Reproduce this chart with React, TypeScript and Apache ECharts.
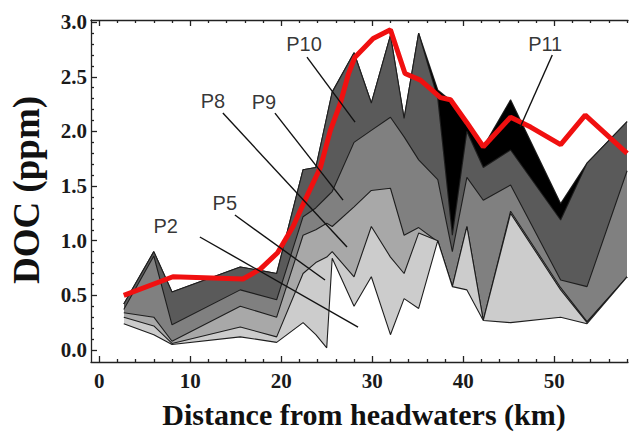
import React, { useEffect, useRef } from "react";
import * as echarts from "echarts";

// sampling sites along the river (km from headwaters)
const sites = [2.7, 6.0, 8.0, 15.5, 19.5, 22.4, 23.8, 25.0, 25.6, 28.0, 29.9, 32.0, 33.5, 35.1, 37.2, 38.8, 40.4, 42.2, 45.2, 50.7, 53.6, 58.0];

// upper boundary of each contribution band (ppm)
const p11Top = [0.42, 0.90, 0.53, 0.76, 0.70, 1.65, 1.67, 2.13, 2.36, 2.72, 2.26, 2.88, 2.12, 2.90, 2.38, 2.27, 2.05, 1.86, 2.29, 1.34, 1.71, 2.09];
const p10Top = [0.42, 0.90, 0.53, 0.76, 0.70, 1.65, 1.67, 2.13, 2.36, 2.72, 2.26, 2.88, 2.12, 2.90, 2.30, 1.05, 2.00, 1.67, 1.83, 1.19, 1.71, 2.09];
const p9Top = [0.37, 0.86, 0.23, 0.55, 0.46, 1.22, 1.30, 1.40, 1.45, 1.90, 2.01, 2.13, 1.95, 1.74, 1.56, 0.90, 1.58, 1.37, 1.51, 0.64, 0.58, 1.64];
const p8Top = [0.34, 0.30, 0.08, 0.40, 0.30, 1.05, 1.10, 1.16, 1.13, 1.31, 1.46, 1.48, 1.05, 1.12, 0.99, 0.58, 1.13, 0.27, 1.27, 0.57, 0.26, 0.67];
const p5Top = [0.30, 0.22, 0.06, 0.21, 0.12, 0.70, 0.80, 0.85, 0.90, 0.67, 1.13, 0.85, 0.70, 1.07, 1.00, 0.58, 1.13, 0.27, 1.25, 0.55, 0.25, 0.67];
const p2Top = [0.24, 0.14, 0.05, 0.12, 0.07, 0.25, 0.14, 0.02, 0.84, 0.40, 0.67, 0.14, 0.47, 0.38, 1.00, 0.58, 0.55, 0.27, 0.25, 0.30, 0.24, 0.67];

// observed DOC (red line)
const obsX = [2.7, 8.1, 15.8, 17.7, 19.6, 21.3, 23.0, 24.3, 25.4, 26.5, 27.4, 28.1, 30.1, 32.0, 33.6, 35.3, 37.5, 38.6, 40.4, 42.2, 45.2, 47.4, 50.7, 53.4, 58.0];
const obsY = [0.50, 0.67, 0.65, 0.74, 0.89, 1.13, 1.44, 1.67, 2.01, 2.26, 2.53, 2.68, 2.85, 2.93, 2.53, 2.47, 2.31, 2.29, 2.08, 1.86, 2.13, 2.04, 1.88, 2.15, 1.80];

// tick values
const xMajor = [0, 10, 20, 30, 40, 50];
const xMinor = [2, 4, 6, 8, 12, 14, 16, 18, 22, 24, 26, 28, 32, 34, 36, 38, 42, 44, 46, 48, 52, 54, 56, 58];
const yMajor = [0, 0.5, 1.0, 1.5, 2.0, 2.5, 3.0];
const yMinor = [0.1, 0.2, 0.3, 0.4, 0.6, 0.7, 0.8, 0.9, 1.1, 1.2, 1.3, 1.4, 1.6, 1.7, 1.8, 1.9, 2.1, 2.2, 2.3, 2.4, 2.6, 2.7, 2.8, 2.9];

// annotation labels (data coords) and pointer lines
const labelNames = ["P10", "P9", "P8", "P5", "P2", "P11"];
const labelX = [22.5, 18.1, 12.5, 13.8, 7.3, 49.0];
const labelY = [2.8, 2.27, 2.28, 1.345, 1.134, 2.8];
const pointerFromX = [22.83, 19.31, 13.59, 14.91, 11.06, 49.78];
const pointerFromY = [2.68, 2.168, 2.168, 1.235, 1.034, 2.70];
const pointerToX = [28.11, 26.79, 27.23, 24.81, 28.44, 46.26];
const pointerToY = [2.085, 1.372, 0.942, 0.64, 0.21, 2.04];

const layers = [
  { name: "P11", top: p11Top, color: "#000000" },
  { name: "P10", top: p10Top, color: "#5a5a5a" },
  { name: "P9", top: p9Top, color: "#808080" },
  { name: "P8", top: p8Top, color: "#a8a8a8" },
  { name: "P5", top: p5Top, color: "#cccccc" },
  { name: "P2", top: p2Top, color: "#ffffff" },
];

const X_MIN = -0.9;
const X_MAX = 58.1;
const Y_MIN = -0.11;
const Y_MAX = 3.02;

const tickFont = {
  fontFamily: "Liberation Serif",
  fontWeight: "bold" as const,
  fontSize: 21,
  color: "#1a1a1a",
};

export default function App() {
  const ref = useRef<HTMLDivElement>(null);
  useEffect(() => {
    if (!ref.current) return;
    const chart = echarts.init(ref.current, undefined, { renderer: "svg" });
    const grid = { left: 91, right: 2, top: 20, bottom: 73 };
    const baseX = { type: "value" as const, min: X_MIN, max: X_MAX, splitLine: { show: false } };
    const baseY = { type: "value" as const, min: Y_MIN, max: Y_MAX, splitLine: { show: false } };
    const lineStyle = { color: "#222", width: 1.3 };

    const option: any = {
      animation: false,
      backgroundColor: "#ffffff",
      grid,
      xAxis: [
        {
          ...baseX,
          position: "bottom",
          axisLine: { show: true, onZero: false, lineStyle },
          axisTick: { show: true, inside: true, length: 6, customValues: xMajor, lineStyle },
          axisLabel: { show: true, customValues: xMajor, margin: 8, lineHeight: 21, ...tickFont },
        },
        {
          ...baseX,
          position: "bottom",
          axisLine: { show: false, onZero: false },
          axisTick: { show: true, inside: true, length: 3, customValues: xMinor, lineStyle },
          axisLabel: { show: false },
        },
        {
          ...baseX,
          position: "top",
          axisLine: { show: true, onZero: false, lineStyle },
          axisTick: { show: true, inside: true, length: 6, customValues: xMajor, lineStyle },
          axisLabel: { show: false },
        },
        {
          ...baseX,
          position: "top",
          axisLine: { show: false, onZero: false },
          axisTick: { show: true, inside: true, length: 3, customValues: xMinor, lineStyle },
          axisLabel: { show: false },
        },
      ],
      yAxis: [
        {
          ...baseY,
          position: "left",
          axisLine: { show: true, onZero: false, lineStyle },
          axisTick: { show: true, inside: true, length: 6, customValues: yMajor, lineStyle },
          axisLabel: {
            show: true,
            customValues: yMajor,
            margin: 4,
            formatter: (v: number) => v.toFixed(1),
            ...tickFont,
          },
        },
        {
          ...baseY,
          position: "left",
          axisLine: { show: false, onZero: false },
          axisTick: { show: true, inside: true, length: 3, customValues: yMinor, lineStyle },
          axisLabel: { show: false },
        },
      ],
      graphic: [
        {
          type: "text",
          x: 364,
          y: 414,
          style: {
            text: "Distance from headwaters (km)",
            font: "bold 30px 'Liberation Serif'",
            fill: "#111",
            textAlign: "center",
            textVerticalAlign: "middle",
          },
        },
        {
          type: "text",
          x: 26,
          y: 190,
          rotation: Math.PI / 2,
          style: {
            text: "DOC (ppm)",
            font: "bold 37px 'Liberation Serif'",
            fill: "#111",
            textAlign: "center",
            textVerticalAlign: "middle",
          },
        },
      ],
      series: [
        ...layers.map((l, i) => ({
          type: "line",
          name: l.name,
          xAxisIndex: 0,
          yAxisIndex: 0,
          data: sites.map((x, j) => [x, l.top[j]]),
          symbol: "none",
          lineStyle: { color: "#1e1e1e", width: 1.1 },
          areaStyle: { color: l.color, opacity: 1 },
          z: 2 + i,
          silent: true,
        })),
        {
          type: "line",
          name: "Observed",
          data: obsX.map((x, j) => [x, obsY[j]]),
          symbol: "none",
          lineStyle: { color: "#f01010", width: 5 },
          z: 20,
          silent: true,
        },
        {
          type: "lines",
          coordinateSystem: "cartesian2d",
          data: pointerFromX.map((x, j) => ({
            coords: [
              [x, pointerFromY[j]],
              [pointerToX[j], pointerToY[j]],
            ],
          })),
          lineStyle: { color: "#111", width: 1.4, opacity: 1 },
          z: 30,
          silent: true,
        },
        {
          type: "scatter",
          data: labelNames.map((n, j) => ({ name: n, value: [labelX[j], labelY[j]] })),
          symbolSize: 0,
          label: {
            show: true,
            position: "inside",
            formatter: (p: any) => p.name,
            fontFamily: "Liberation Sans",
            fontSize: 20,
            color: "#000",
          },
          z: 31,
          silent: true,
        },
      ],
    };
    chart.setOption(option);
    return () => chart.dispose();
  }, []);
  return (
    <>
      <style>{`.doc-chart svg path[fill]:not([fill="none"]):not([stroke]) { shape-rendering: crispEdges; }`}</style>
      <div
        className="doc-chart"
        ref={ref}
        style={{ position: "fixed", left: 0, top: 0, width: 630, height: 435 }}
      />
    </>
  );
}
